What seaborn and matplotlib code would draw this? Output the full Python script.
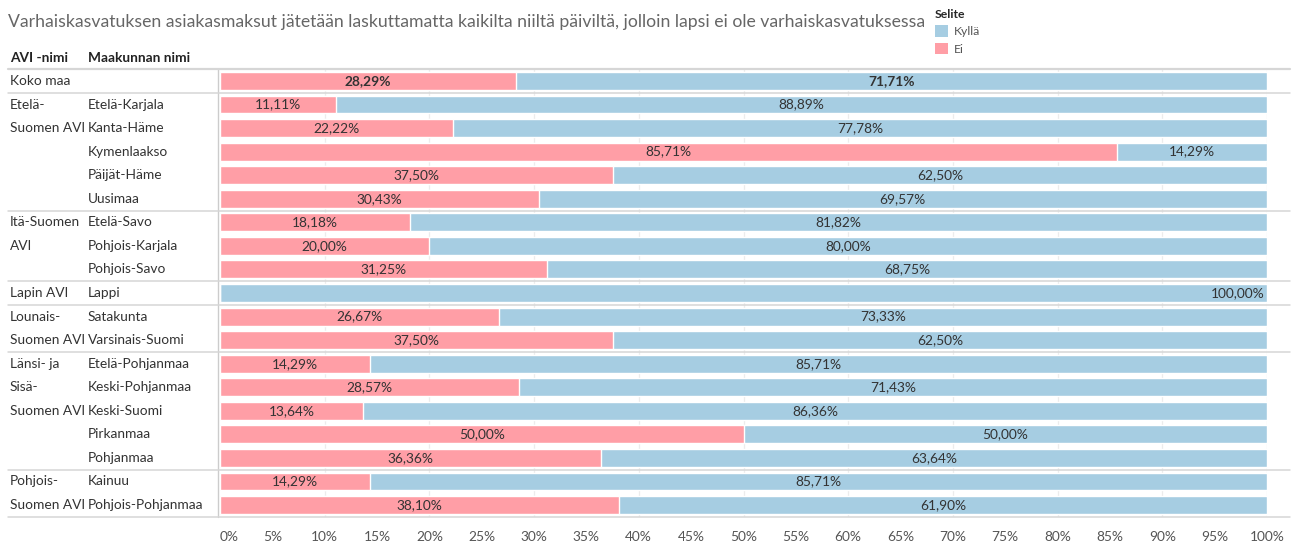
import matplotlib
matplotlib.use("Agg")
import matplotlib.pyplot as plt
import matplotlib.transforms as mtransforms
from matplotlib.patches import Patch
import seaborn as sns
import pandas as pd

# ---- data ----
avi_groups = ["Koko maa", "Etelä-Suomen AVI", "Itä-Suomen AVI", "Lapin AVI",
              "Lounais-Suomen AVI", "Länsi- ja Sisä-Suomen AVI", "Pohjois-Suomen AVI"]
avi_label_lines = [["Koko maa"], ["Etelä-", "Suomen AVI"], ["Itä-Suomen", "AVI"], ["Lapin AVI"],
                   ["Lounais-", "Suomen AVI"], ["Länsi- ja", "Sisä-", "Suomen AVI"],
                   ["Pohjois-", "Suomen AVI"]]
group_sizes = [1, 5, 3, 1, 2, 5, 2]
provinces = ["", "Etelä-Karjala", "Kanta-Häme", "Kymenlaakso", "Päijät-Häme", "Uusimaa",
             "Etelä-Savo", "Pohjois-Karjala", "Pohjois-Savo", "Lappi",
             "Satakunta", "Varsinais-Suomi",
             "Etelä-Pohjanmaa", "Keski-Pohjanmaa", "Keski-Suomi", "Pirkanmaa", "Pohjanmaa",
             "Kainuu", "Pohjois-Pohjanmaa"]
ei_values = [28.29, 11.11, 22.22, 85.71, 37.50, 30.43,
             18.18, 20.00, 31.25, 0.0,
             26.67, 37.50,
             14.29, 28.57, 13.64, 50.00, 36.36,
             14.29, 38.10]
kylla_values = [71.71, 88.89, 77.78, 14.29, 62.50, 69.57,
                81.82, 80.00, 68.75, 100.00,
                73.33, 62.50,
                85.71, 71.43, 86.36, 50.00, 63.64,
                85.71, 61.90]
x_ticks = [0, 5, 10, 15, 20, 25, 30, 35, 40, 45, 50, 55, 60, 65, 70, 75, 80, 85, 90, 95, 100]

COL_KYLLA = "#a6cde2"
COL_EI = "#ff9ea6"
TXT = "#333333"
LINE = "#d6d6d6"
FONT = ["Lato", "DejaVu Sans"]
FS = 9.9

sns.set_theme(style="white")
plt.rcParams["font.family"] = FONT

W, H = 1296, 547
fig = plt.figure(figsize=(W / 100, H / 100), dpi=100)

x0, x1 = 220 / W, 1267 / W
ytop, ybot = 69.2, 516.8
ax = fig.add_axes([x0, 1 - ybot / H, x1 - x0, (ybot - ytop) / H])

row_ids = [f"r{i}" for i in range(len(provinces))]
df = pd.DataFrame({"row": row_ids, "ei": ei_values, "kylla": kylla_values})
df["total"] = df["ei"] + df["kylla"]

sns.barplot(data=df, y="row", x="total", color=COL_KYLLA, orient="h", width=0.76,
            saturation=1, ax=ax, zorder=2)
sns.barplot(data=df, y="row", x="ei", color=COL_EI, orient="h", width=0.76,
            saturation=1, ax=ax, zorder=3)

ax.set_xlim(0, 100)
ax.set_ylim(len(provinces) - 0.5, -0.5)
ax.set_xlabel("")
ax.set_ylabel("")
ax.set_yticks([])
ax.set_xticks(x_ticks)
ax.set_xticklabels([f"{t}%" for t in x_ticks])
ax.tick_params(axis="x", length=0, pad=10, labelsize=FS, labelcolor="#555555")
tl = ax.get_xticklabels()
tl[0].set_horizontalalignment("left")
for s in ax.spines.values():
    s.set_visible(False)

# vertical grid lines every 10%
for g in range(10, 101, 10):
    ax.axvline(g, color="#ececec", lw=0.9, zorder=1)
ax.axvline(-0.15, color="#cccccc", lw=1.0, zorder=1, clip_on=False)

# value labels
fmt = lambda v: f"{v:.2f}".replace(".", ",") + "%"
for i, (e, k) in enumerate(zip(ei_values, kylla_values)):
    weight = "bold" if i == 0 else "normal"
    if e > 0:
        ax.text(e / 2, i, fmt(e), ha="center", va="center", fontsize=FS, color=TXT,
                fontweight=weight, zorder=5)
        ax.text(e + k / 2, i, fmt(k), ha="center", va="center", fontsize=FS, color=TXT,
                fontweight=weight, zorder=5)
    else:
        ax.text(e + k - 0.2, i, fmt(k), ha="right", va="center", fontsize=FS, color=TXT,
                fontweight=weight, zorder=5)

# row headers
trans = mtransforms.blended_transform_factory(fig.transFigure, ax.transData)
start = 0
for lines, n in zip(avi_label_lines, group_sizes):
    for j, ln in enumerate(lines):
        ax.text(10 / W, start + j, ln, transform=trans, ha="left", va="center",
                fontsize=FS, color=TXT, clip_on=False)
    start += n
for i, p in enumerate(provinces):
    if p:
        ax.text(88 / W, i, p, transform=trans, ha="left", va="center",
                fontsize=FS, color=TXT, clip_on=False)

# group separators
bounds = [-0.5]
acc = 0
for n in group_sizes:
    acc += n
    bounds.append(acc - 0.5)
for b in bounds:
    ax.plot([8 / W, 1290 / W], [b, b], transform=trans, color=LINE,
            lw=1.6 if b == -0.5 else 1.1, clip_on=False, zorder=1)

# column headers
fig.text(10 / W, 1 - 58 / H, "AVI -nimi", ha="left", va="center", fontsize=FS,
         fontweight="bold", color="#222222")
fig.text(88 / W, 1 - 58 / H, "Maakunnan nimi", ha="left", va="center", fontsize=FS,
         fontweight="bold", color="#222222")

# title
fig.text(8 / W, 1 - 22.5 / H,
         "Varhaiskasvatuksen asiakasmaksut jätetään laskuttamatta kaikilta niiltä päiviltä, "
         "jolloin lapsi ei ole varhaiskasvatuksessa",
         ha="left", va="center", fontsize=12.7, color="#666666")

# legend
handles = [Patch(facecolor=COL_KYLLA, edgecolor="none", label="Kyllä"),
           Patch(facecolor=COL_EI, edgecolor="none", label="Ei")]
leg = fig.legend(handles=handles, title="Selite", loc="upper left",
                 bbox_to_anchor=(926 / W, 1 - 0 / H), frameon=False, fontsize=8.8,
                 title_fontsize=8.8, handlelength=1.1, handleheight=1.1,
                 handletextpad=0.45, labelspacing=0.45, borderpad=0.2)
leg.get_title().set_fontweight("bold")
leg._legend_box.align = "left"
for t in leg.get_texts():
    t.set_color("#555555")

fig.savefig("out.png", dpi=100)
